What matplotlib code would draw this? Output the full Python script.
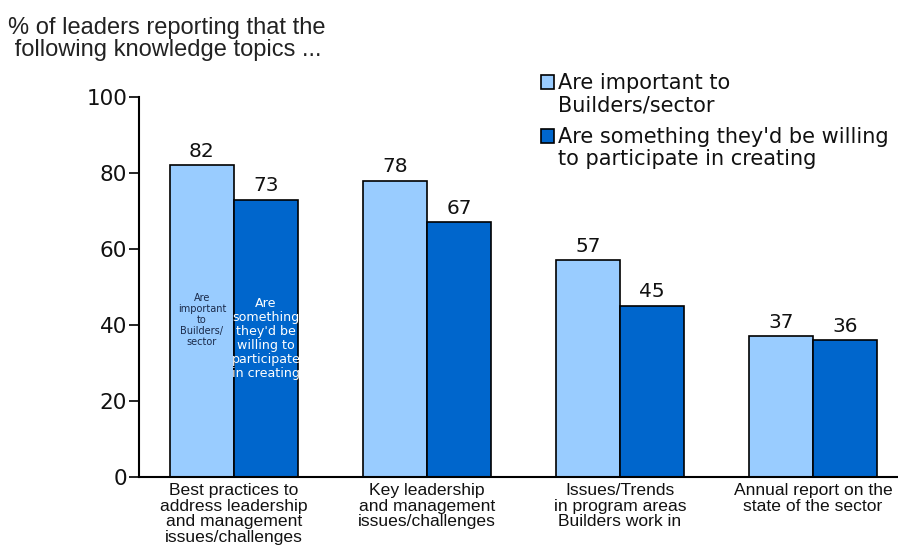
import matplotlib
matplotlib.use("Agg")
import matplotlib.pyplot as plt
from matplotlib.patches import Rectangle
import numpy as np

categories = [
    "Best practices to\naddress leadership\nand management\nissues/challenges",
    "Key leadership\nand management\nissues/challenges",
    "Issues/Trends\nin program areas\nBuilders work in",
    "Annual report on the\nstate of the sector",
]
series_names = [
    "Are important to\nBuilders/sector",
    "Are something they'd be willing\nto participate in creating",
]
important = [82, 78, 57, 37]
willing = [73, 67, 45, 36]
yticks = [0, 20, 40, 60, 80, 100]

light = "#99CCFF"
dark = "#0066CC"
narrow = ["Liberation Sans", "DejaVu Sans"]
wide = ["DejaVu Sans"]

fig = plt.figure(figsize=(8.98, 5.53), dpi=100)
ax = fig.add_axes([0.1548, 0.1374, 0.8440, 0.6872])

x = np.arange(len(categories))
w = 0.332
b1 = ax.bar(x - w / 2, important, w, color=light, edgecolor="black", linewidth=1.2)
b2 = ax.bar(x + w / 2, willing, w, color=dark, edgecolor="black", linewidth=1.2)

for bars, vals in ((b1, important), (b2, willing)):
    for r, v in zip(bars, vals):
        ax.text(r.get_x() + r.get_width() / 2, v + 1.2, f"{v}", ha="center",
                va="bottom", fontsize=14.5, family=wide, color="#111111")

# captions inside the first pair of bars
ax.text(x[0] - w / 2, 41.3, "Are\nimportant\nto\nBuilders/\nsector", ha="center",
        va="center", fontsize=7, family=wide, color="#1a2a4a", linespacing=1.1)
ax.text(x[0] + w / 2, 36.5, "Are\nsomething\nthey'd be\nwilling to\nparticipate\nin creating",
        ha="center", va="center", fontsize=9.1, family=wide, color="white",
        linespacing=1.1)

ax.set_xlim(-0.492, 3.435)
ax.set_ylim(0, 100)
ax.set_yticks(yticks)
ax.set_yticklabels([str(t) for t in yticks], fontsize=15.5, family=wide, color="#111111")
ax.set_xticks(x)
ax.set_xticklabels(categories, fontsize=12.6, family=narrow, color="#111111",
                   linespacing=1.08)
ax.tick_params(axis="y", length=7, width=1.2, pad=1.5)
ax.tick_params(axis="x", length=0, pad=4)
for s in ("top", "right"):
    ax.spines[s].set_visible(False)
for s in ("left", "bottom"):
    ax.spines[s].set_linewidth(1.5)

# header
fig.text(0.009, 0.970, "% of leaders reporting that the\n following knowledge topics ...",
         ha="left", va="top", fontsize=17, family=narrow, color="#222222",
         linespacing=1.0)

# legend
W, H = 898, 553
for i, (name, col) in enumerate(zip(series_names, [light, dark])):
    ytop = 75 + i * 54
    fig.add_artist(Rectangle((541 / W, 1 - (ytop + 14) / H), 13 / W, 14 / H,
                             transform=fig.transFigure, facecolor=col,
                             edgecolor="black", linewidth=1.2))
    fig.text(558 / W, 1 - (ytop - 2) / H, name, ha="left", va="top", fontsize=15,
             family=wide, color="#111111", linespacing=1.15)

fig.savefig("out.png", dpi=100)
